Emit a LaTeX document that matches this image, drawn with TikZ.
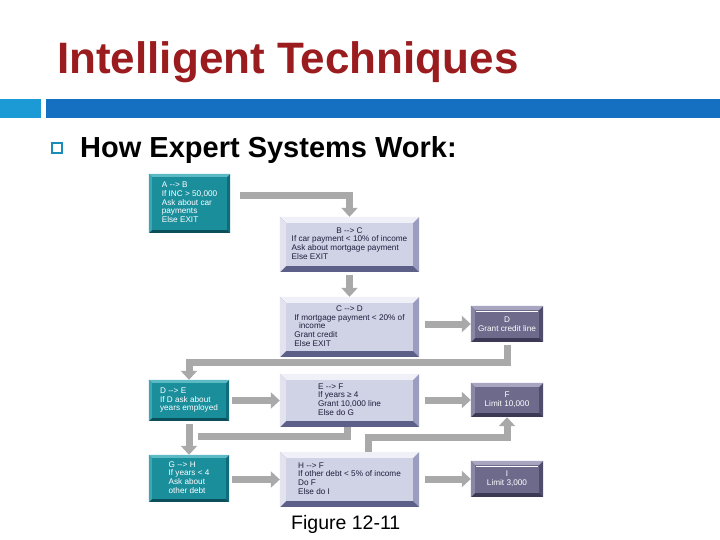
\documentclass[tikz,border=0pt]{standalone}
\usepackage{fontspec}
\setmainfont{Liberation Sans}
\usetikzlibrary{arrows.meta,calc,backgrounds}
\definecolor{titlered}{HTML}{9B1C1F}
\definecolor{barcyan}{HTML}{1C9AD6}
\definecolor{barblue}{HTML}{1570C2}
\definecolor{bulletblue}{HTML}{1A8CB8}
\definecolor{arrowgray}{HTML}{A9A9A9}
\definecolor{tface}{HTML}{1B8E9C}
\definecolor{ttop}{HTML}{5CBAC4}
\definecolor{tleft}{HTML}{3FA6B2}
\definecolor{tright}{HTML}{0F6C78}
\definecolor{tbot}{HTML}{0A4F5A}
\definecolor{lface}{HTML}{D0D2E6}
\definecolor{ltop}{HTML}{F0F1F8}
\definecolor{lleft}{HTML}{E2E3EF}
\definecolor{lright}{HTML}{9A9DBF}
\definecolor{lbot}{HTML}{5C6088}
\definecolor{pface}{HTML}{6E6A8C}
\definecolor{ptop}{HTML}{A8A5C0}
\definecolor{pleft}{HTML}{8A86A6}
\definecolor{pright}{HTML}{504C6C}
\definecolor{pbot}{HTML}{3C3955}
\definecolor{ltext}{HTML}{1E1E3C}
\newcommand\bevbox[7]{%
 \begin{scope}[on background layer]
 \fill[#6] (#1.north west) rectangle (#1.south east);
 \fill[#5] (#1.north east) -- (#1.south east) -- ($(#1.south east)+(-#2,-#2)$) -- ($(#1.north east)+(-#2,#2)$) -- cycle;
 \fill[#4] (#1.north west) -- (#1.south west) -- ($(#1.south west)+(#2,-#2)$) -- ($(#1.north west)+(#2,#2)$) -- cycle;
 \fill[#3] (#1.north west) -- (#1.north east) -- ($(#1.north east)+(-#2,#2)$) -- ($(#1.north west)+(#2,#2)$) -- cycle;
 \fill[#7] ($(#1.north west)+(#2,#2)$) rectangle ($(#1.south east)+(-#2,-#2)$);
 \end{scope}}
\newcommand\tealbev[1]{\bevbox{#1}{3}{ttop}{tleft}{tright}{tbot}{tface}}
\newcommand\lavbev[1]{\bevbox{#1}{6}{ltop}{lleft}{lright}{lbot}{lface}}
\newcommand\purbev[1]{\bevbox{#1}{4}{ptop}{pleft}{pright}{pbot}{pface}}
\tikzset{
 boxtext/.style={inner sep=0pt, font=\fontsize{8.2}{8.7}\selectfont},
 tealbox/.style={boxtext, text=white},
 lavbox/.style={boxtext, text=ltext},
 purbox/.style={boxtext, text=white, align=center},
 conn/.style={draw=arrowgray, line width=7pt, line join=miter, -{Triangle[width=16pt,length=9pt]}},
 bar/.style={draw=arrowgray, line width=7pt, line join=miter},
}
\begin{document}
\begin{tikzpicture}[x=1pt,y=-1pt]
\useasboundingbox (0,0) rectangle (720,540);
\begin{scope}[on background layer]
\fill[white] (0,0) rectangle (720,540);
\end{scope}
% header
\node[anchor=base west, inner sep=0, text=titlered, font=\fontsize{44}{50}\selectfont\bfseries] (title) at (57,74) {Intelligent Techniques};
\fill[barcyan] (0,99) rectangle (41,118);
\fill[barblue] (46,99) rectangle (720,118);
\node[draw=bulletblue, line width=1.3pt, minimum size=10pt, inner sep=0] (bul) at (57,148) {};
\node[anchor=base west, inner sep=0, font=\fontsize{29}{32}\selectfont\bfseries] (sub) at (80,158) {How Expert Systems Work:};
% boxes
\node[tealbox, minimum width=81pt, minimum height=59pt] (A) at (189.5,203.5)
 {\begin{tabular}{@{}l@{}}A -{}-> B\\If INC > 50,000\\Ask about car\\payments\\Else EXIT\end{tabular}};
\tealbev{A}
\node[lavbox, minimum width=139pt, minimum height=55pt] (B) at (349.5,244.5)
 {\begin{tabular}{@{}l@{}}\multicolumn{1}{@{}c@{}}{B -{}-> C}\\If car payment < 10\% of income\\Ask about mortgage payment\\Else EXIT\end{tabular}};
\lavbev{B}
\node[lavbox, minimum width=139pt, minimum height=60pt] (C) at (349.5,327)
 {\begin{tabular}{@{}l@{}}\multicolumn{1}{@{}c@{}}{C -{}-> D}\\If mortgage payment < 20\% of\\\ \ income\\Grant credit\\Else EXIT\end{tabular}};
\lavbev{C}
\node[purbox, minimum width=72pt, minimum height=36pt] (D) at (507,324)
 {D\\Grant credit line};
\purbev{D}
\node[tealbox, minimum width=80pt, minimum height=41pt] (DE) at (189,400.5)
 {\begin{tabular}{@{}l@{}}D -{}-> E\\If D ask about\\years employed\end{tabular}};
\tealbev{DE}
\node[lavbox, minimum width=139pt, minimum height=53pt] (E) at (349.5,400.5)
 {\begin{tabular}{@{}l@{}}E -{}-> F\\If years ≥ 4\\Grant 10,000 line\\Else do G\end{tabular}};
\lavbev{E}
\node[purbox, minimum width=72pt, minimum height=34pt] (F) at (507,400)
 {F\\Limit 10,000};
\purbev{F}
\node[tealbox, minimum width=80pt, minimum height=47pt] (G) at (189,478.5)
 {\begin{tabular}{@{}l@{}}G -{}-> H\\If years < 4\\Ask about\\other debt\end{tabular}};
\tealbev{G}
\node[lavbox, minimum width=139pt, minimum height=55pt] (H) at (349.5,479.5)
 {\begin{tabular}{@{}l@{}}H -{}-> F\\If other debt < 5\% of income\\Do F\\Else do I\end{tabular}};
\lavbev{H}
\node[purbox, minimum width=72pt, minimum height=36pt] (I) at (507,479)
 {I\\Limit 3,000};
\purbev{I}
\draw[white, line width=0.6pt] ($(D.north west)+(5,5)$) -- ($(D.north east)+(-5,5)$);
\draw[white, line width=0.6pt] ($(I.north west)+(5,5)$) -- ($(I.north east)+(-5,5)$);
% connectors
\draw[conn] (A.east) ++(10,-7.5) -| (B.north);
\draw[conn] (B.south) ++(0,3) -- (C.north);
\draw[conn] (D.west -| C.east) ++(6,0) -- (D.west);
\draw[conn] (D.south) ++(0,3) |- ($(DE.north)+(0,-17)$) -- (DE.north);
\draw[conn] (E.west -| DE.east) ++(3,0) -- (E.west);
\draw[conn] (F.west -| E.east) ++(6,0) -- (F.west);
\draw[bar] (E.south) ++(-2,0) |- ($(DE.south)+(9,15)$);
\draw[conn] (DE.south) ++(0,3) -- (G.north);
\draw[conn] (H.north) ++(18.5,0) |- ($(F.south)+(0,20)$) -- (F.south);
\draw[conn] (H.west -| G.east) ++(3,0) -- (H.west);
\draw[conn] (I.west -| H.east) ++(6,0) -- (I.west);
% caption
\node[anchor=base west, inner sep=0, font=\fontsize{19.5}{22}\selectfont] (cap) at (291,529) {Figure 12-11};
\end{tikzpicture}
\end{document}
